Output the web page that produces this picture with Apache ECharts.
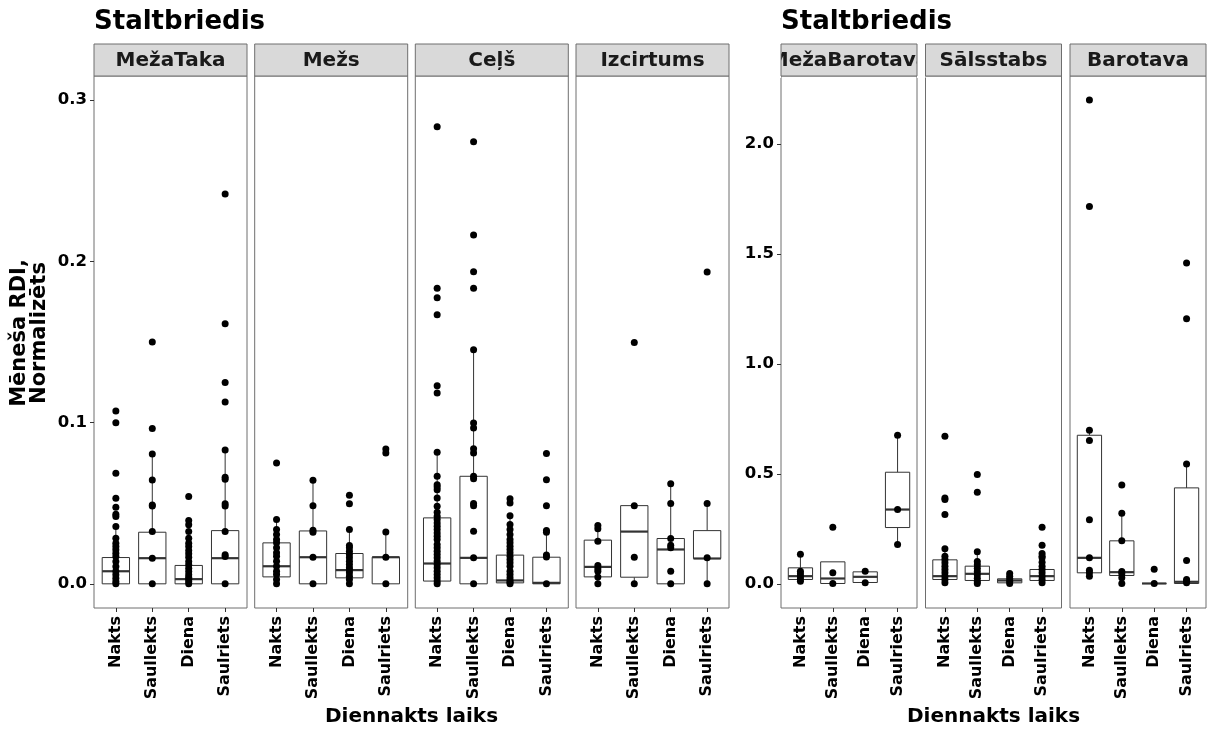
<!DOCTYPE html>
<html>
<head>
<meta charset="utf-8">
<script src="https://cdn.jsdelivr.net/npm/echarts@6/dist/echarts.min.js"></script>
<style>
html,body{margin:0;padding:0;background:#fff;}
#chart{width:1209px;height:734px;}
</style>
</head>
<body>
<div id="chart"></div>
<script>
// ---------- DATA ----------
const categories = ['Nakts', 'Saullekts', 'Diena', 'Saulriets'];
const plotTitle = 'Staltbriedis';
const xTitle = 'Diennakts laiks';
const yTitle = 'Mēneša RDI,\nNormalizēts';
const leftFacets = ['MežaTaka', 'Mežs', 'Ceļš', 'Izcirtums'];
const rightFacets = ['MežaBarotava', 'Sālsstabs', 'Barotava'];
const leftTicks = [0, 0.1, 0.2, 0.3];
const rightTicks = [0, 0.5, 1.0, 1.5, 2.0];

// points per category (Nakts, Saullekts, Diena, Saulriets)
const mezaTakaPts = [
  [0.1072,0.0999,0.0686,0.0531,0.0475,0.0432,0.0417,0.0355,0.0283,0.0252,0.0231,0.0211,0.019,0.0169,0.0138,0.0107,0.0078,0.0056,0.0035,0.0014,0],
  [0.15,0.0964,0.0805,0.0644,0.0489,0.0483,0.0324,0.0159,0],
  [0.0541,0.0392,0.0366,0.0324,0.0283,0.0252,0.0231,0.0207,0.0186,0.0165,0.0138,0.0118,0.0097,0.0076,0.0056,0.0041,0.0029,0.0014,0],
  [0.2418,0.1613,0.1249,0.1128,0.083,0.0661,0.0648,0.0496,0.0483,0.0324,0.018,0.0169,0]
];
// box stats: [lower whisker, Q1, median, Q3, upper whisker]
const mezaTakaBox = [
  [0,0,0.0078,0.0163,0.0355],
  [0,0,0.0159,0.032,0.0805],
  [0,0,0.0029,0.0114,0.0283],
  [0,0,0.0159,0.033,0.083]
];
const mezsPts = [
  [0.075,0.0399,0.0337,0.0306,0.0275,0.0254,0.0223,0.0192,0.0171,0.014,0.0109,0.0078,0.0058,0.0027,0],
  [0.0642,0.0485,0.0333,0.032,0.0165,0],
  [0.0549,0.0496,0.0337,0.0238,0.0223,0.0202,0.0182,0.0161,0.014,0.012,0.0099,0.0085,0.0068,0.0047,0.0027,0],
  [0.0836,0.0812,0.0322,0.0165,0]
];
const mezsBox = [
  [0,0.0043,0.0109,0.0254,0.0399],
  [0,0,0.0165,0.0328,0.0642],
  [0,0.0037,0.0085,0.0188,0.0337],
  [0,0,0.0165,0.0165,0.0322]
];
const celsPts = [
  [0.2835,0.1834,0.1774,0.1669,0.1229,0.1183,0.0816,0.0667,0.0615,0.0601,0.0584,0.0533,0.0481,0.0444,0.0419,0.0399,0.0378,0.0357,0.0337,0.0316,0.0295,0.0275,0.0244,0.0223,0.0202,0.0182,0.0161,0.014,0.012,0.0099,0.0078,0.0058,0.0037,0.0017,0],
  [0.2742,0.2164,0.1935,0.1834,0.1452,0.0998,0.0967,0.0838,0.0812,0.0667,0.0651,0.0498,0.0485,0.0326,0.0161,0],
  [0.0527,0.0502,0.0423,0.0368,0.0337,0.0306,0.0275,0.0254,0.0233,0.0213,0.0192,0.0171,0.0151,0.013,0.0109,0.0078,0.0058,0.0037,0.0021,0.001,0],
  [0.0808,0.0646,0.0485,0.033,0.032,0.0178,0.0167,0]
];
const celsBox = [
  [0,0.0017,0.0126,0.0409,0.0816],
  [0,0,0.0161,0.0667,0.1452],
  [0,0.0006,0.0021,0.0178,0.0423],
  [0,0,0.0006,0.0165,0.033]
];
const izcirtumsPts = [
  [0.0361,0.0341,0.0264,0.0114,0.0093,0.0078,0.0043,0],
  [0.1497,0.0485,0.0165,0],
  [0.062,0.0498,0.0281,0.024,0.0223,0.0078,0],
  [0.1934,0.0498,0.0161,0]
];
const izcirtumsBox = [
  [0,0.0043,0.0105,0.0271,0.0361],
  [0,0.0041,0.0324,0.0485,0.0485],
  [0,0,0.0213,0.0281,0.062],
  [0,0.0157,0.0157,0.033,0.0498]
];
const mezaBarotavaPts = [
  [0.1348,0.0576,0.0455,0.0348,0.0227,0.0121],
  [0.2576,0.05,0.0015],
  [0.0576,0.0045],
  [0.6758,0.3379,0.1788]
];
const mezaBarotavaBox = [
  [0.0121,0.0197,0.0348,0.0727,0.1348],
  [0.0015,0.0015,0.0242,0.1,0.1],
  [0.006,0.006,0.0318,0.0545,0.0545],
  [0.1788,0.256,0.3379,0.5076,0.6758]
];
const salsstabsPts = [
  [0.6712,0.3909,0.3833,0.3152,0.1591,0.1258,0.1106,0.0955,0.0803,0.0652,0.05,0.0348,0.0197,0.0045],
  [0.497,0.4167,0.1455,0.1015,0.0864,0.0712,0.0561,0.0409,0.0258,0.0106,0.0015],
  [0.047,0.0348,0.0227,0.0121,0.0015],
  [0.2576,0.1758,0.1379,0.1258,0.1182,0.0985,0.0803,0.0652,0.05,0.0348,0.0197,0.0045]
];
const salsstabsBox = [
  [0.0045,0.0197,0.0348,0.1091,0.1591],
  [0.0015,0.0152,0.0455,0.0803,0.1455],
  [0.0015,0.0045,0.0152,0.0227,0.047],
  [0.0045,0.0152,0.0348,0.0652,0.1379]
];
const barotavaPts = [
  [2.201,1.716,0.6985,0.6515,0.2909,0.1182,0.0621,0.05,0.0348],
  [0.45,0.3212,0.1955,0.0561,0.0455,0.0273,0.0015],
  [0.0667,0.0015],
  [1.459,1.206,0.5455,0.1061,0.0197,0.0121,0.0045]
];
const barotavaBox = [
  [0.0348,0.05,0.1182,0.6758,0.6985],
  [0.0015,0.0379,0.053,0.1955,0.3212],
  [0.0015,0.0015,0.0015,0.0015,0.0015],
  [0.0015,0.0015,0.0091,0.4364,0.5455]
];

// ---------- LAYOUT ----------
const FONT = '"DejaVu Sans", Verdana, sans-serif';
const panelTop = 76, panelH = 532, stripTop = 44, stripH = 32;
const leftX = [94, 254.7, 415.3, 576], leftW = 153;
const rightX = [781, 925.5, 1070], rightW = 136;
const leftRange = [-0.015, 0.315];
const rightRange = [-0.11, 2.31];

const panels = [
  {name: leftFacets[0], pts: mezaTakaPts, box: mezaTakaBox, x: leftX[0], w: leftW, side: 'L', first: true},
  {name: leftFacets[1], pts: mezsPts, box: mezsBox, x: leftX[1], w: leftW, side: 'L'},
  {name: leftFacets[2], pts: celsPts, box: celsBox, x: leftX[2], w: leftW, side: 'L'},
  {name: leftFacets[3], pts: izcirtumsPts, box: izcirtumsBox, x: leftX[3], w: leftW, side: 'L'},
  {name: rightFacets[0], pts: mezaBarotavaPts, box: mezaBarotavaBox, x: rightX[0], w: rightW, side: 'R', first: true},
  {name: rightFacets[1], pts: salsstabsPts, box: salsstabsBox, x: rightX[1], w: rightW, side: 'R'},
  {name: rightFacets[2], pts: barotavaPts, box: barotavaBox, x: rightX[2], w: rightW, side: 'R'}
];

const grid = [], xAxis = [], yAxis = [], series = [], graphic = [];

function renderBox(params, api) {
  const x = api.value(0);
  const lo = api.coord([x, api.value(1)]);
  const q1 = api.coord([x, api.value(2)]);
  const md = api.coord([x, api.value(3)]);
  const q3 = api.coord([x, api.value(4)]);
  const hi = api.coord([x, api.value(5)]);
  const hw = api.size([0.375, 0])[0];
  const cx = lo[0];
  return {
    type: 'group',
    children: [
      {type: 'line', shape: {x1: cx, y1: q3[1], x2: cx, y2: hi[1]}, style: {stroke: '#333', lineWidth: 1}},
      {type: 'line', shape: {x1: cx, y1: q1[1], x2: cx, y2: lo[1]}, style: {stroke: '#333', lineWidth: 1}},
      {type: 'rect', shape: {x: cx - hw, y: q3[1], width: 2 * hw, height: q1[1] - q3[1]}, style: {fill: '#fff', stroke: '#333', lineWidth: 1}},
      {type: 'line', shape: {x1: cx - hw, y1: md[1], x2: cx + hw, y2: md[1]}, style: {stroke: '#333', lineWidth: 2.2}}
    ]
  };
}

panels.forEach((p, i) => {
  const range = p.side === 'L' ? leftRange : rightRange;
  const ticks = p.side === 'L' ? leftTicks : rightTicks;
  grid.push({left: p.x, top: panelTop, width: p.w, height: panelH, show: true,
    borderColor: '#6e6e6e', borderWidth: 1, backgroundColor: '#fff'});
  xAxis.push({
    gridIndex: i, type: 'value', min: 0.4, max: 4.6, position: 'bottom',
    axisLine: {show: false, onZero: false}, splitLine: {show: false},
    axisTick: {show: true, customValues: [1, 2, 3, 4], length: 4, lineStyle: {color: '#333'}},
    axisLabel: {show: true, customValues: [1, 2, 3, 4], formatter: v => categories[Math.round(v) - 1] || '',
      rotate: 90, margin: 8, fontSize: 16, fontWeight: 'bold', color: '#000', fontFamily: FONT}
  });
  yAxis.push({
    gridIndex: i, type: 'value', min: range[0], max: range[1], position: 'left',
    axisLine: {show: false, onZero: false}, splitLine: {show: false},
    axisTick: {show: !!p.first, customValues: ticks, length: 4, lineStyle: {color: '#333'}},
    axisLabel: {show: !!p.first, customValues: ticks, formatter: v => Number(v).toFixed(1),
      margin: 7, fontSize: 16.5, fontWeight: 'bold', color: '#000', fontFamily: FONT}
  });
  series.push({
    type: 'custom', xAxisIndex: i, yAxisIndex: i, z: 2,
    data: p.box.map((b, ci) => [ci + 1].concat(b)),
    encode: {x: 0, y: [1, 2, 3, 4, 5]},
    renderItem: renderBox
  });
  const pts = [];
  p.pts.forEach((arr, ci) => arr.forEach(v => pts.push([ci + 1, v])));
  series.push({
    type: 'scatter', xAxisIndex: i, yAxisIndex: i, z: 3,
    data: pts, symbol: 'circle', symbolSize: 7,
    itemStyle: {color: '#000', opacity: 1}
  });
  // strip
  graphic.push({type: 'rect', z: 10, shape: {x: p.x, y: stripTop, width: p.w, height: stripH},
    style: {fill: '#d9d9d9', stroke: null}});
  graphic.push({type: 'text', z: 11, x: p.x + p.w / 2, y: stripTop + stripH / 2 + 1,
    style: {text: p.name, textAlign: 'center', textVerticalAlign: 'middle',
      font: 'bold 20px ' + FONT, fill: '#1a1a1a'}});
  graphic.push({type: 'rect', z: 13, shape: {x: p.x, y: stripTop, width: p.w, height: stripH},
    style: {fill: null, stroke: '#6e6e6e', lineWidth: 1}});
});

// clip the overflowing strip label of the first right panel
graphic.push({type: 'rect', z: 12, shape: {x: 735, y: stripTop - 2, width: rightX[0] - 735, height: stripH + 4}, style: {fill: '#fff'}});
graphic.push({type: 'rect', z: 12, shape: {x: rightX[0] + rightW, y: stripTop - 2, width: rightX[1] - rightX[0] - rightW, height: stripH + 4}, style: {fill: '#fff'}});
graphic.push({type: 'rect', z: 12, shape: {x: rightX[1] + 0.5, y: stripTop + 0.5, width: 8, height: stripH - 1}, style: {fill: '#d9d9d9'}});

// titles
graphic.push({type: 'text', z: 20, x: leftX[0], y: 22,
  style: {text: plotTitle, textAlign: 'left', textVerticalAlign: 'middle', font: 'bold 26px ' + FONT, fill: '#000'}});
graphic.push({type: 'text', z: 20, x: rightX[0], y: 22,
  style: {text: plotTitle, textAlign: 'left', textVerticalAlign: 'middle', font: 'bold 26px ' + FONT, fill: '#000'}});
graphic.push({type: 'text', z: 20, x: (leftX[0] + leftX[3] + leftW) / 2, y: 717,
  style: {text: xTitle, textAlign: 'center', textVerticalAlign: 'middle', font: 'bold 20px ' + FONT, fill: '#000'}});
graphic.push({type: 'text', z: 20, x: (rightX[0] + rightX[2] + rightW) / 2, y: 717,
  style: {text: xTitle, textAlign: 'center', textVerticalAlign: 'middle', font: 'bold 20px ' + FONT, fill: '#000'}});
graphic.push({type: 'text', z: 20, x: 30, y: 333, rotation: Math.PI / 2,
  style: {text: yTitle, textAlign: 'center', textVerticalAlign: 'middle', font: 'bold 21px ' + FONT, lineHeight: 20, fill: '#000'}});

const chart = echarts.init(document.getElementById('chart'), null, {renderer: 'canvas'});
chart.setOption({
  animation: false,
  backgroundColor: '#fff',
  grid, xAxis, yAxis, series, graphic
});
</script>
</body>
</html>
